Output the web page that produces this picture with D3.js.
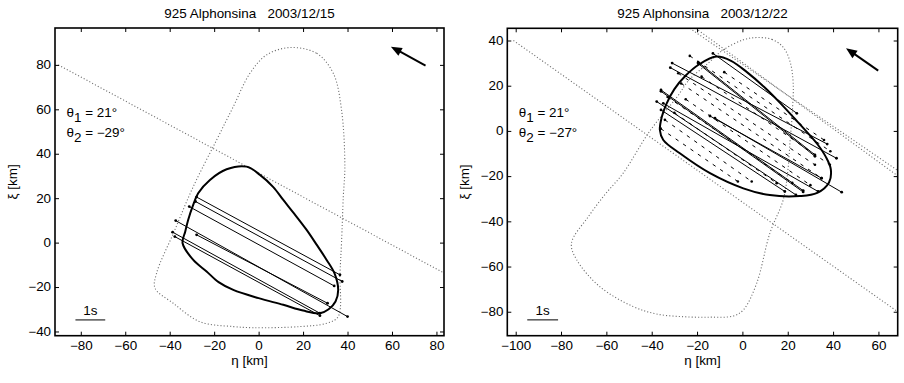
<!DOCTYPE html>
<html><head><meta charset="utf-8">
<script src="https://cdn.jsdelivr.net/npm/d3@7"></script>
<style>
html,body{margin:0;padding:0;background:#fff;}
svg{display:block;font-family:"Liberation Sans",Arial,Helvetica,sans-serif;}
text{white-space:pre;}
</style></head><body>
<svg id="c" width="904" height="383"></svg>
<script>
// ---------- data ----------
const titles = ["925 Alphonsina   2003/12/15", "925 Alphonsina   2003/12/22"];
const theta1 = ["21", "21"];
const theta2 = ["\u221229", "\u221227"];
const xLabel = "\u03b7 [km]";
const yLabel = "\u03be [km]";

const xTicksL = [-80, -60, -40, -20, 0, 20, 40, 60, 80];
const yTicksL = [-40, -20, 0, 20, 40, 60, 80];
const xTicksR = [-100, -80, -60, -40, -20, 0, 20, 40, 60];
const yTicksR = [-80, -60, -40, -20, 0, 20, 40];
const xDomainL = [-91.6, 83.4], yDomainL = [-41.9, 96.6];
const xDomainR = [-103.7, 68.5], yDomainR = [-90.6, 45.4];

// solid profile (eta, xi)
const outlineL = [[-5.4,34.2],[0.6,30.5],[6.6,25],[11.1,19.2],[16,13],[21.6,5.7],[26,-0.8],[30.6,-7.8],[34.2,-14],[35.8,-21.3],[34.6,-26.5],[31.5,-30],[27.6,-31.8],[20,-30.6],[11.1,-28],[0,-25],[-11.4,-21.3],[-18,-17.8],[-23.4,-13],[-29.4,-7.8],[-34.2,-0.3],[-33,5],[-31.7,10.2],[-29.6,16.5],[-27.2,22.2],[-21.9,28.2],[-14.4,33]];
const outlineR = [[-11.4,32.9],[-5,31],[2,26],[9.5,19.5],[16.5,12.5],[23,5.5],[28.5,-0.5],[33.2,-6],[36.8,-11.5],[39,-17],[38.2,-22.8],[33,-27.4],[25.4,-28.8],[12.1,-28.4],[0.4,-25.4],[-14.3,-18.7],[-27.6,-9.9],[-34.9,-4],[-36.4,0.4],[-35.6,6],[-33.5,12],[-30,18.5],[-25,24.5],[-19,29.5]];

// dotted (gray) curves
const dottedCurveL = [[14.1,87.8],[26.1,85.2],[33.6,76.2],[37.3,59.7],[38.8,34.2],[38.1,20.7],[37.3,0],[36.6,-13.8],[35.8,-33.3],[30.6,-36.3],[18.6,-37.8],[-2.4,-38.3],[-11.4,-37.8],[-26.4,-35.6],[-38.4,-27.3],[-46.6,-20.5],[-45.9,-13.8],[-38,5],[-29.4,25.2],[-18.9,46.2],[-11.4,61.2],[-3.9,76.2],[3.6,84.5]];
const dottedCurveR = [[6.3,41.3],[13,40.5],[18,37],[21,30.7],[22.4,21.1],[22,8],[21,-5],[20,-18],[18,-30.5],[12.1,-45.3],[6.3,-67.4],[0.4,-79.2],[-4.1,-81.9],[-14.3,-82.4],[-26.1,-82.2],[-37.9,-81],[-48.2,-77.7],[-62.9,-68.9],[-73.1,-57],[-75.4,-49.7],[-68,-38],[-60.5,-28],[-52.6,-18.7],[-40.8,0],[-28.7,15.2],[-23.5,22.6],[-15,30],[-8.5,35.8],[0.4,40.3]];
const dottedLinesL = [[-90.1,80,83.4,-13.7]];
const dottedLinesR = [[-101,40,68.5,-80],[-23.2,45.4,68.5,-17.5],[-20.6,45.4,68.5,-19.9]];

// chords [eta1, xi1, eta2, xi2]
const chordsL = [
  [-27.9,20.5,36.6,-14.5],[-28.4,18.5,37.6,-17.5],[-31.2,16.2,34.0,-19.5],
  [-37.3,9.9,40.0,-33.3],[-27.9,3.5,31.0,-27.3],[-38.7,4.7,27.6,-31.8],[-37.7,2.7,27.6,-32.9]
];
const chordsR = [
  [-13.0,34.3,24.0,7.8],[-31.0,30.0,37.4,-5.8],[-31.8,28.0,41.5,-12.1],
  [-19.5,30.4,32.0,-10.6],[-19.5,29.8,32.0,-11.2],
  [-35.9,18.1,26.8,-26.4],[-35.9,17.5,26.8,-27.0],
  [-37.8,13.0,23.6,-28.3],[-34.9,12.2,33.4,-26.8],[-35.9,9.3,18.7,-26.8],
  [-14.3,6.6,34.9,-20.9],[-12.1,5.6,43.8,-27.1]
];
const dashedR = [
  [-23.2,33.2,38.8,-9.0],[-28.3,25.5,32.0,-15.0],[-34.2,4.9,4.1,-22.4],
  [-30.0,8.0,15.1,-23.1],[-33.0,15.0,22.0,-23.0],[-27.0,21.0,34.9,-20.9],
  [-18.0,24.0,38.6,-15.0],[-8.0,26.0,36.0,-4.0],[-36.0,1.0,-2.0,-22.4],[-25.0,14.0,30.0,-24.0]
];

// arrows [tail, tip] and 1 s scale bars [eta1, eta2, xi]
const arrowL = [[75.1,79.7],[59.5,88.2]];
const arrowR = [[59.9,26.7],[45.7,36.6]];
const barL = [-82.4,-69.0,-34.8];
const barR = [-94.9,-81.3,-83.6];

// ---------- layout ----------
const SX = 1.12; // horizontal text stretch
const FS = 12;
const panels = [
  {box:{l:55,r:444,t:28,b:335.7}, xd:xDomainL, yd:yDomainL, xt:xTicksL, yt:yTicksL, title:titles[0], th1:theta1[0], th2:theta2[0],
   outline:outlineL, dcurve:dottedCurveL, dlines:dottedLinesL, chords:chordsL, dashed:[], arrow:arrowL, bar:barL, ylx:17.3},
  {box:{l:507.3,r:897.7,t:28.3,b:335.7}, xd:xDomainR, yd:yDomainR, xt:xTicksR, yt:yTicksR, title:titles[1], th1:theta1[1], th2:theta2[1],
   outline:outlineR, dcurve:dottedCurveR, dlines:dottedLinesR, chords:chordsR, dashed:dashedR, arrow:arrowR, bar:barR, ylx:468.5}
];

const svg = d3.select("#c");

function stext(g, x, y, str, anchor) {
  return g.append("text")
    .attr("transform", `translate(${x},${y}) scale(${SX},1)`)
    .attr("text-anchor", anchor || "start")
    .attr("font-size", FS).attr("fill", "#000")
    .text(str);
}

const GRAY = "#6e6e6e";

panels.forEach((p, i) => {
  const b = p.box;
  const x = d3.scaleLinear().domain(p.xd).range([b.l, b.r]);
  const y = d3.scaleLinear().domain(p.yd).range([b.b, b.t]);
  const g = svg.append("g");
  const cid = "clip" + i;
  svg.append("clipPath").attr("id", cid).append("rect")
    .attr("x", b.l).attr("y", b.t).attr("width", b.r - b.l).attr("height", b.b - b.t);
  const pg = g.append("g").attr("clip-path", `url(#${cid})`);

  // dotted curves and lines
  const closed = d3.line().x(d => x(d[0])).y(d => y(d[1])).curve(d3.curveCatmullRomClosed.alpha(0.5));
  pg.append("path").attr("d", closed(p.dcurve)).attr("fill", "none")
    .attr("stroke", GRAY).attr("stroke-width", 1.1).attr("stroke-dasharray", "1.1,2.1");
  p.dlines.forEach(l => {
    pg.append("line").attr("x1", x(l[0])).attr("y1", y(l[1])).attr("x2", x(l[2])).attr("y2", y(l[3]))
      .attr("stroke", GRAY).attr("stroke-width", 1.1).attr("stroke-dasharray", "1.1,2.1");
  });

  // dashed chords
  p.dashed.forEach(c => {
    pg.append("line").attr("x1", x(c[0])).attr("y1", y(c[1])).attr("x2", x(c[2])).attr("y2", y(c[3]))
      .attr("stroke", "#000").attr("stroke-width", 1).attr("stroke-dasharray", "3.5,5.5");
    [[c[0], c[1]], [c[2], c[3]]].forEach(pt => pg.append("circle").attr("cx", x(pt[0])).attr("cy", y(pt[1])).attr("r", 1.3).attr("fill", "#000"));
  });
  // solid chords
  p.chords.forEach(c => {
    pg.append("line").attr("x1", x(c[0])).attr("y1", y(c[1])).attr("x2", x(c[2])).attr("y2", y(c[3]))
      .attr("stroke", "#000").attr("stroke-width", 1);
    [[c[0], c[1]], [c[2], c[3]]].forEach(pt => pg.append("circle").attr("cx", x(pt[0])).attr("cy", y(pt[1])).attr("r", 1.4).attr("fill", "#000"));
  });

  // profile outline
  pg.append("path").attr("d", closed(p.outline)).attr("fill", "none")
    .attr("stroke", "#000").attr("stroke-width", 2).attr("stroke-linejoin", "round");

  // arrow
  const tx = x(p.arrow[0][0]), ty = y(p.arrow[0][1]);
  const hx = x(p.arrow[1][0]), hy = y(p.arrow[1][1]);
  const len = Math.hypot(hx - tx, hy - ty), ux = (hx - tx) / len, uy = (hy - ty) / len;
  const hl = 11, hw = 4.5;
  const bx = hx - ux * hl, by = hy - uy * hl;
  g.append("line").attr("x1", tx).attr("y1", ty).attr("x2", bx + ux).attr("y2", by + uy)
    .attr("stroke", "#000").attr("stroke-width", 2);
  g.append("path").attr("d", `M${hx},${hy}L${bx - uy * hw},${by + ux * hw}L${bx + uy * hw},${by - ux * hw}Z`).attr("fill", "#000");

  // 1 s scale bar
  g.append("line").attr("x1", x(p.bar[0])).attr("x2", x(p.bar[1])).attr("y1", y(p.bar[2])).attr("y2", y(p.bar[2]))
    .attr("stroke", "#000").attr("stroke-width", 1);
  stext(g, (x(p.bar[0]) + x(p.bar[1])) / 2, y(p.bar[2]) - 5, "1s", "middle");

  // axes
  const ax = [
    d3.axisBottom(x).tickValues(p.xt).tickSize(-4).tickPadding(5.5).tickSizeOuter(0),
    d3.axisTop(x).tickValues(p.xt).tickSize(-4).tickFormat("").tickSizeOuter(0),
    d3.axisLeft(y).tickValues(p.yt).tickSize(-4).tickPadding(3.5).tickSizeOuter(0),
    d3.axisRight(y).tickValues(p.yt).tickSize(-4).tickFormat("").tickSizeOuter(0)
  ];
  const pos = [`translate(0,${b.b})`, `translate(0,${b.t})`, `translate(${b.l},0)`, `translate(${b.r},0)`];
  ax.forEach((a, k) => {
    const ag = g.append("g").attr("transform", pos[k]).call(a);
    ag.select(".domain").remove();
    ag.selectAll(".tick line").attr("stroke", "#000").attr("stroke-width", 1);
    ag.selectAll(".tick text").attr("font-size", FS).attr("fill", "#000")
      .attr("font-family", '"Liberation Sans",Arial,sans-serif')
      .attr("transform", `scale(${SX},1)`);
  });
  // frame
  g.append("rect").attr("x", b.l).attr("y", b.t).attr("width", b.r - b.l).attr("height", b.b - b.t)
    .attr("fill", "none").attr("stroke", "#000").attr("stroke-width", 1.6);

  // title and labels
  stext(g, (b.l + b.r) / 2, 18, p.title, "middle");
  stext(g, (b.l + b.r) / 2, 365, xLabel, "middle");
  g.append("text").attr("transform", `translate(${p.ylx},${(b.t + b.b) / 2}) rotate(-90) scale(${SX},1)`)
    .attr("text-anchor", "middle").attr("font-size", FS).text(yLabel);

  // theta annotations
  [[p.th1, "1", 117], [p.th2, "2", 137]].forEach(([val, sub, yy]) => {
    const t = g.append("text").attr("transform", `translate(${b.l + 11.5},${yy}) scale(${SX},1)`).attr("font-size", FS);
    t.append("tspan").text("\u03b8");
    t.append("tspan").attr("dy", 5).text(sub);
    t.append("tspan").attr("dy", -5).text(" = " + val + "\u00b0");
  });
});
</script>
</body></html>
